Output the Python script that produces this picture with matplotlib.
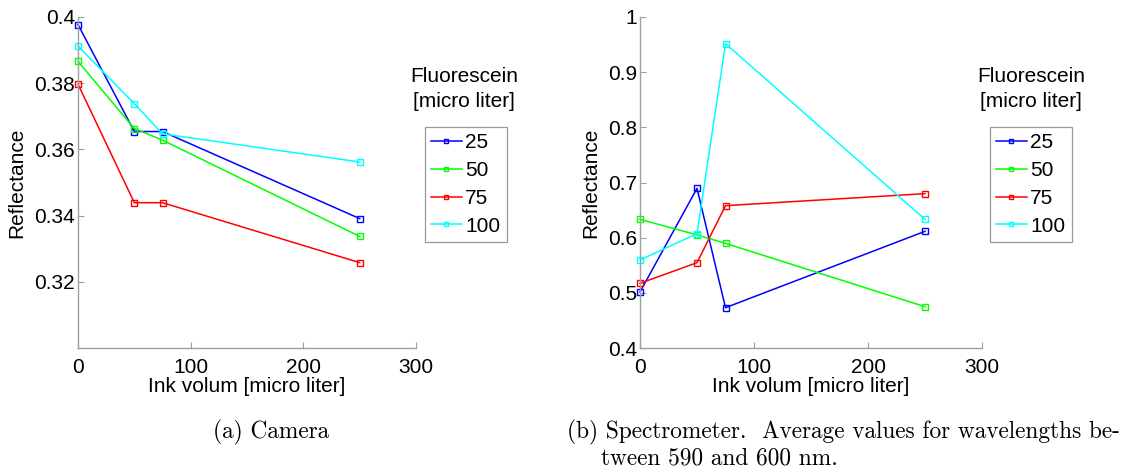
import matplotlib
matplotlib.use("Agg")
import matplotlib.pyplot as plt

x_ink = [0, 50, 75, 250]
series_labels = ["25", "50", "75", "100"]
colors = ["#0000ff", "#00ff00", "#ff0000", "#00ffff"]

camera_25 = [0.3977, 0.3654, 0.3654, 0.3391]
camera_50 = [0.3866, 0.3663, 0.3628, 0.3337]
camera_75 = [0.3797, 0.3439, 0.3439, 0.3258]
camera_100 = [0.3912, 0.3738, 0.3647, 0.3562]

spec_25 = [0.5015, 0.6894, 0.4731, 0.6115]
spec_50 = [0.6332, 0.6050, 0.5897, 0.4749]
spec_75 = [0.5172, 0.5547, 0.6580, 0.6798]
spec_100 = [0.5595, 0.6073, 0.9517, 0.6332]

cam_yticks = [0.32, 0.34, 0.36, 0.38, 0.4]
cam_yticklabels = ["0.32", "0.34", "0.36", "0.38", "0.4"]
spec_yticks = [0.4, 0.5, 0.6, 0.7, 0.8, 0.9, 1.0]
spec_yticklabels = ["0.4", "0.5", "0.6", "0.7", "0.8", "0.9", "1"]
xticks = [0, 100, 200, 300]

plt.rcParams['font.family'] = ['Liberation Sans', 'DejaVu Sans']
FS = 15

W, H = 1137, 472
fig = plt.figure(figsize=(W / 100, H / 100), dpi=100)

def px_axes(x0, y0, x1, y1):
    return fig.add_axes([x0 / W, 1 - y1 / H, (x1 - x0) / W, (y1 - y0) / H])

def style(ax, ylim, yt, ytl):
    ax.set_xlim(0, 300)
    ax.set_ylim(*ylim)
    ax.set_xticks(xticks)
    ax.set_xticklabels([str(t) for t in xticks])
    ax.set_yticks(yt)
    ax.set_yticklabels(ytl)
    for s in ["top", "right"]:
        ax.spines[s].set_visible(False)
    for s in ["left", "bottom"]:
        ax.spines[s].set_color("#a0a0a0")
        ax.spines[s].set_linewidth(1.0)
    ax.tick_params(direction="in", length=4, color="#a0a0a0", labelsize=FS, labelcolor="black")
    ax.tick_params(axis="x", pad=7)
    ax.tick_params(axis="y", pad=2)
    ax.set_xlabel("Ink volum [micro liter]", fontsize=FS, labelpad=0)
    ax.set_ylabel("Reflectance", fontsize=FS, labelpad=6)

def draw(ax, data):
    handles = []
    for vals, c, lab in zip(data, colors, series_labels):
        h, = ax.plot(x_ink, vals, color=c, lw=1.1, marker="s", ms=4.5,
                     mfc="none", mec=c, mew=1.0, label=lab, clip_on=False)
        handles.append(h)
    return handles

ax1 = px_axes(78, 17, 416, 348)
h1 = draw(ax1, [camera_25, camera_50, camera_75, camera_100])
style(ax1, (0.30, 0.40), cam_yticks, cam_yticklabels)

ax2 = px_axes(640, 17, 982, 348)
h2 = draw(ax2, [spec_25, spec_50, spec_75, spec_100])
style(ax2, (0.4, 1.0), spec_yticks, spec_yticklabels)

def legend(handles, x0, y0, x1, y1, tx):
    leg = fig.legend(handles, series_labels, loc="center",
                     bbox_to_anchor=((x0 + x1) / 2 / W, 1 - (y0 + y1) / 2 / H),
                     fontsize=FS, frameon=True, fancybox=False,
                     edgecolor="#808080", handlelength=1.5, handletextpad=0.15,
                     labelspacing=0.42, borderpad=0.3, borderaxespad=0, markerscale=0.6)
    leg.get_frame().set_linewidth(0.9)
    fig.text(tx / W, 1 - 89 / H, "Fluorescein\n[micro liter]", ha="center", va="center",
             fontsize=FS, linespacing=1.45)

legend(h1, 426, 127, 505, 242, 464)
legend(h2, 992, 127, 1069, 242, 1031)

cap_font = dict(family=["cmr10", "DejaVu Serif"], fontsize=16.8)
fig.text(271 / W, 1 - 432 / H, "(a) Camera", ha="center", va="center", **cap_font)
fig.text(567 / W, 1 - 432 / H, "(b) Spectrometer.  Average values for wavelengths be-",
         ha="left", va="center", **cap_font)
fig.text(601 / W, 1 - 458 / H, "tween 590 and 600 nm.", ha="left", va="center", **cap_font)

fig.savefig("out.png", dpi=100)
